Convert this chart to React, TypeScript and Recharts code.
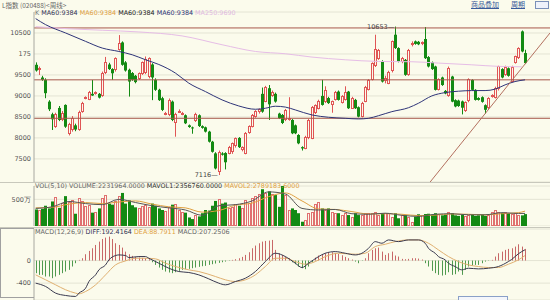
import React from 'react';
import { ComposedChart, Bar, Line, XAxis, YAxis, CartesianGrid, ReferenceLine, ReferenceDot } from 'recharts';

const BG = '#fbfbec';
const RED = '#e05555';
const GREEN = '#138a13';
const NAVY = '#2e3478';
const PINK = '#e6bde6';
const BROWN = '#a8584c';
const GRID = '#e4e4d4';
const AXIS = '#a8a8a0';
const FONT = '"DejaVu Sans", Verdana, sans-serif';

const opens = [9742,9620,9439,9384,8865,8564,8268,8714,8430,8786,8093,8189,8300,8189,8626,8940,8922,9050,9050,9050,9001,9544,9750,9640,9606,10101,10275,9800,9623,9546,9480,9400,9520,9546,9440,9750,9384,9146,8946,8560,8547,8865,8349,8620,8560,8540,8300,8250,8400,8540,8280,8253,8150,7910,7632,7192,7630,7640,7632,7646,7790,8000,7700,7632,8125,8268,8500,8600,9050,8870,9185,9000,9050,8580,8547,8428,8430,8428,8300,8070,7780,7751,7990,7990,8588,8700,9001,8850,8950,8780,8906,9104,8840,8906,9104,8707,8906,8731,8507,8865,9145,9384,9702,9880,9822,9343,9305,9582,10459,10141,9800,9860,9503,10200,10300,10290,10230,10357,9926,9800,9702,9145,9440,9120,9000,9463,8900,8890,8870,8640,8865,9380,9145,8950,8970,8780,8700,8980,8960,9145,9640,9500,9660,9343,9783,9900,10538,10022];
const highs = [9800,9700,9480,9420,8900,8600,8600,8760,8640,8800,8360,8520,8340,8650,8860,8990,9120,9380,9110,9070,9580,9930,9790,9660,9920,10450,10300,9830,9650,9570,9500,9560,9820,9940,9920,9780,9420,9170,8980,8620,8940,8890,8600,8680,8620,8560,8320,8270,8600,8560,8300,8270,8170,7930,7660,7700,7660,7660,7810,7890,8010,8020,7800,8140,8300,8570,8660,8700,9200,9240,9260,9130,9080,8600,8570,8690,8970,8450,8320,8090,7800,8050,8450,8760,8800,8910,9384,9230,8980,8890,9120,9130,9020,9230,9120,8980,8930,8750,8860,9240,9400,9800,10459,10120,9850,9480,9600,10320,10653,10160,9930,9880,10120,10300,10320,10310,10300,10643,9950,9820,9720,9420,9460,9140,9700,9480,8920,8910,8890,8870,9420,9400,9160,8970,8990,8800,8970,9040,9220,9720,9660,9720,9680,9720,9960,10160,10560,10100];
const lows = [9580,9500,9360,8946,8640,8189,8240,8400,8400,8240,8060,8150,8160,8170,8600,8920,8900,9000,9030,8940,8980,9520,9620,9384,9580,10080,9720,9580,8985,9360,9300,9380,9500,9520,9420,8900,9120,8880,8640,8540,8520,8400,8029,8600,8540,8330,8240,8100,8380,8260,8220,8130,7890,7650,7250,7116,7580,7250,7610,7620,7770,7760,7680,7610,8100,8250,8480,8580,8600,8850,8428,8980,8840,8450,8330,8400,8410,8090,8090,7850,7700,7730,7970,7970,8570,8680,8770,8830,8810,8600,8890,8890,8820,8890,8690,8690,8690,8490,8490,8850,9130,9370,9690,9860,9320,9300,9280,9560,10120,9800,9780,9480,9480,10180,10220,10210,10210,9880,9680,9620,9130,9130,9240,9040,8980,8850,8730,8740,8560,8620,8850,9130,8890,8890,8840,8580,8680,8960,8940,9130,9420,9480,9460,9330,9770,9880,10040,9760];
const closes = [9606,9660,9384,9066,8683,8444,8571,8428,8600,8268,8332,8475,8200,8626,8834,8970,9104,9010,9090,8960,9558,9797,9640,9540,9900,10261,9742,9606,9343,9384,9330,9546,9800,9880,9900,9440,9146,8900,8667,8590,8906,8428,8571,8650,8600,8349,8260,8230,8571,8283,8240,8150,7910,7670,7273,7670,7600,7420,7790,7871,7990,7780,7780,8125,8284,8547,8640,8680,8626,9224,8800,9104,8866,8470,8356,8667,8470,8110,8110,7871,7750,8029,8428,8746,8786,8890,8786,9130,8830,8870,9104,8906,9000,9104,8707,8960,8707,8507,8842,9224,9384,9783,10118,10100,9343,9420,9582,10300,10141,9822,9900,9503,10101,10250,10240,10230,10280,9900,9702,9640,9145,9400,9260,9060,9677,8865,8750,8760,8720,8850,9400,9145,8906,8906,8860,8670,8950,9020,9200,9702,9440,9700,9480,9700,9940,10141,10060,9783];

// volume in 万
const volumes = [310,300,320,380,330,460,540,340,430,560,450,480,230,520,470,380,400,250,270,330,520,580,420,400,470,560,620,420,480,390,350,330,380,400,360,420,380,330,300,280,350,400,420,300,270,250,160,130,200,180,240,300,290,380,470,500,420,440,330,360,420,380,340,480,440,520,560,600,690,620,650,600,580,360,750,580,300,330,300,240,80,110,240,270,410,455,330,300,330,270,240,240,205,240,205,175,240,205,205,240,240,250,270,205,240,250,240,175,240,145,205,205,175,80,175,220,215,225,230,210,240,220,200,210,270,240,200,190,210,180,200,210,190,200,210,190,210,260,300,270,250,255,240,230,240,215,200,223];

const macdHist = [-224,-254,-254,-283,-283,-313,-283,-254,-224,-195,-165,-106,-47,12,41,112,171,218,277,336,383,407,425,383,307,277,230,159,112,83,65,53,47,41,24,-30,-77,-124,-165,-195,-212,-224,-207,-183,-165,-153,-148,-136,-124,-112,-100,-94,-77,-65,-53,-41,-30,-18,-6,12,24,41,65,100,148,218,266,307,336,348,354,366,189,130,100,71,41,-30,-65,-106,-136,-153,-106,-30,53,89,112,130,142,148,136,118,94,65,41,18,-18,-47,-6,41,130,189,218,230,159,100,130,159,89,71,30,24,30,41,41,35,18,-47,-106,-183,-224,-254,-266,-254,-207,-254,-242,-195,-254,-165,-106,-89,-77,-77,-47,-18,-6,12,71,130,159,189,207,218,248,289,248,207];

const ma60Points: [number, number][] = [[0,10842],[3,10698],[9,10500],[15,10300],[20,10141],[25,10060],[29,9981],[33,9862],[37,9750],[42,9544],[46,9305],[51,9104],[56,8906],[61,8762],[66,8683],[69,8707],[72,8755],[75,8735],[78,8667],[83,8547],[88,8492],[93,8468],[97,8452],[100,8468],[103,8530],[107,8626],[112,8720],[115,8827],[119,9001],[123,9080],[127,9113],[131,9128],[135,9128],[138,9162],[141,9264],[144,9343],[147,9384]];
const ma250Points: [number, number][] = [[0,10650],[10,10600],[20,10565],[31,10525],[44,10430],[56,10220],[66,10060],[75,10005],[83,9926],[93,9862],[103,9822],[113,9815],[121,9783],[131,9742],[139,9705],[146,9695]];
const mavol1Points: [number, number][] = [[0,330],[5,360],[10,460],[15,420],[20,400],[25,500],[30,440],[35,380],[40,340],[45,300],[50,200],[55,380],[60,400],[65,470],[70,640],[75,600],[80,330],[85,300],[90,310],[95,230],[100,220],[105,240],[110,200],[115,180],[120,220],[125,230],[130,210],[135,210],[140,250],[145,235],[147,236]];
const mavol2Points: [number, number][] = [[0,340],[5,350],[10,410],[15,440],[20,420],[25,450],[30,470],[35,410],[40,360],[45,340],[50,260],[55,290],[60,390],[65,430],[70,550],[75,620],[80,470],[85,320],[90,310],[95,270],[100,225],[105,230],[110,220],[115,195],[120,205],[125,225],[130,220],[135,210],[140,230],[145,250],[147,279]];
const diffPoints: [number, number][] = [[0,-401],[3,-460],[6,-578],[9,-620],[12,-637],[13,-578],[15,-490],[16,-372],[18,-254],[19,-165],[21,-77],[22,12],[24,89],[25,100],[27,89],[28,53],[31,71],[33,71],[34,41],[37,-47],[40,-136],[43,-195],[46,-212],[49,-254],[52,-325],[55,-401],[57,-431],[60,-372],[63,-313],[66,-195],[69,-18],[72,130],[75,71],[78,-47],[80,-124],[82,-47],[85,71],[87,130],[90,159],[93,130],[96,100],[98,130],[100,218],[102,336],[104,307],[106,366],[109,336],[112,366],[115,366],[117,307],[118,218],[120,130],[121,71],[123,12],[124,-47],[126,-106],[128,-165],[130,-136],[133,-148],[136,-136],[139,-106],[142,-18],[143,20],[145,120],[147,192]];
const deaPoints: [number, number][] = [[0,-254],[3,-342],[6,-431],[9,-519],[12,-578],[13,-590],[15,-549],[18,-431],[21,-254],[24,-77],[27,-6],[30,41],[33,41],[36,30],[39,-47],[42,-106],[46,-165],[49,-195],[54,-283],[57,-342],[60,-372],[63,-342],[66,-254],[69,-106],[72,41],[75,41],[78,-18],[81,-65],[84,-18],[87,71],[91,130],[96,112],[99,130],[102,248],[105,289],[108,336],[112,366],[115,366],[118,307],[121,189],[124,71],[127,-18],[130,-77],[133,-106],[136,-124],[139,-124],[142,-65],[145,12],[147,89]];

const priceTicks = [7500, 8000, 8500, 9000, 9500, 10000, 10500];
const priceTickLabels = ['7500', '8000', '8500', '9000', '9500', '175', '10500'];
const hLines = [10620, 9384, 8468];
const trendFrom = { x: 118.5, y: 6950 };
const trendTo = { x: 154.5, y: 10500 };
const volTicks = [500];
const macdTicks = [-400, 0];

const data: any[] = opens.map((o, i) => ({
  i, open: o, high: highs[i], low: lows[i], close: closes[i], range: [lows[i], highs[i]],
  vol: volumes[i], macd: macdHist[i],
  ma60: null, ma250: null, mavol1: null, mavol2: null, diff: null, dea: null,
}));
const put = (pts: [number, number][], key: string) => pts.forEach(([i, v]) => { data[i][key] = v; });
put(ma60Points, 'ma60'); put(ma250Points, 'ma250'); put(mavol1Points, 'mavol1');
put(mavol2Points, 'mavol2'); put(diffPoints, 'diff'); put(deaPoints, 'dea');

const XDOM: [number, number] = [-0.5, 154.5];

const Candle = (props: any) => {
  const { x, y, width, height, payload } = props;
  if (!payload) return null;
  const top = Math.min(y, y + height);
  const h = Math.abs(height);
  const { open, close, high, low } = payload;
  const ppu = h / ((high - low) || 1);
  const cx = Math.round(x + width / 2) + 0.5;
  const up = close >= open;
  const yHi = top + (high - Math.max(open, close)) * ppu;
  const yLo = top + (high - Math.min(open, close)) * ppu;
  const c = up ? RED : GREEN;
  const bh = Math.max(yLo - yHi, 1);
  return (
    <g>
      <line x1={cx} x2={cx} y1={top} y2={top + h} stroke={c} strokeWidth={1} />
      {up
        ? <rect x={cx - 1} y={Math.round(yHi) + 0.5} width={2} height={Math.max(Math.round(bh) - 1, 1)} fill={BG} stroke={c} strokeWidth={1} />
        : <rect x={cx - 1.5} y={yHi} width={3} height={bh} fill={c} />}
    </g>
  );
};

const VolBar = (props: any) => {
  const { x, y, width, height, payload } = props;
  if (!payload) return null;
  const top = Math.min(y, y + height);
  const h = Math.abs(height);
  const cx = Math.round(x + width / 2) + 0.5;
  const up = payload.close >= payload.open;
  return up
    ? <rect x={cx - 1} y={Math.round(top) + 0.5} width={2} height={Math.max(Math.round(h) - 1, 1)} fill={BG} stroke={'#e07070'} strokeWidth={1} />
    : <rect x={cx - 1.5} y={top} width={3} height={h} fill={GREEN} />;
};

const MacdBar = (props: any) => {
  const { x, y, width, height, payload } = props;
  if (!payload) return null;
  const top = Math.min(y, y + height);
  const h = Math.abs(height);
  const cx = Math.round(x + width / 2) + 0.5;
  const c = payload.macd >= 0 ? '#c86868' : '#4f9a4f';
  return <line x1={cx} x2={cx} y1={top} y2={top + h} stroke={c} strokeWidth={1} />;
};

const tickStyle = { fontSize: 6.5, fill: '#555', fontFamily: FONT };

const hdr: React.CSSProperties = { position: 'absolute', whiteSpace: 'nowrap', fontFamily: FONT, fontSize: 6.4, lineHeight: '8px' };

export default function App() {
  return (
    <div style={{ position: 'absolute', left: 0, top: 0, width: 550, height: 300, background: BG, overflow: 'hidden' }}>
      {/* main pane */}
      <div style={{ position: 'absolute', left: 0, top: 0 }}>
        <ComposedChart width={550} height={183} data={data} margin={{ top: 12, right: 0, bottom: 1, left: 0 }}>
          <CartesianGrid horizontal vertical={false} stroke={GRID} />
          <XAxis dataKey="i" type="number" domain={XDOM} hide allowDataOverflow />
          <YAxis type="number" domain={[6950, 11000]} ticks={priceTicks} width={34} interval={0}
            tickFormatter={(v: number) => priceTickLabels[priceTicks.indexOf(v)] ?? String(v)}
            tick={tickStyle} tickLine={false} tickSize={2} tickMargin={1} axisLine={{ stroke: AXIS }} allowDataOverflow />
          {hLines.map((v) => <ReferenceLine key={v} y={v} stroke={BROWN} strokeWidth={1} />)}
          <Line dataKey="ma250" type="monotone" stroke={PINK} strokeWidth={1} dot={false} activeDot={false} connectNulls isAnimationActive={false} />
          <Line dataKey="ma60" type="monotone" stroke={NAVY} strokeWidth={1} dot={false} activeDot={false} connectNulls isAnimationActive={false} />
          <Bar dataKey="range" barSize={3} shape={<Candle />} isAnimationActive={false} />
          <ReferenceLine segment={[trendFrom, trendTo]} stroke="#b3705f" strokeWidth={1} ifOverflow="visible" />
          <ReferenceDot x={108} y={10653} r={0} fill="none" stroke="none"
            label={{ value: '10653—', position: 'left', offset: 1, fontSize: 6.5, fill: '#444', fontFamily: FONT }} />
          <ReferenceDot x={55} y={7116} r={0} fill="none" stroke="none"
            label={{ value: '7116—', position: 'left', offset: 1, fontSize: 6.5, fill: '#444', fontFamily: FONT }} />
        </ComposedChart>
      </div>

      {/* volume pane */}
      <div style={{ position: 'absolute', left: 0, top: 182 }}>
        <ComposedChart width={550} height={44} data={data} margin={{ top: 4, right: 0, bottom: 0, left: 0 }}>
          <CartesianGrid horizontal vertical={false} stroke={GRID} />
          <XAxis dataKey="i" type="number" domain={XDOM} hide allowDataOverflow />
          <YAxis type="number" domain={[0, 750]} ticks={volTicks} width={34} interval={0}
            tickFormatter={(v: number) => `${v}万`} tick={tickStyle} tickLine={false} tickSize={2} tickMargin={1}
            axisLine={{ stroke: AXIS }} allowDataOverflow />
          <Bar dataKey="vol" barSize={3} shape={<VolBar />} isAnimationActive={false} />
          <Line dataKey="mavol2" type="monotone" stroke="#e0a040" strokeWidth={1} dot={false} activeDot={false} connectNulls isAnimationActive={false} />
          <Line dataKey="mavol1" type="monotone" stroke="#555" strokeWidth={1} dot={false} activeDot={false} connectNulls isAnimationActive={false} />
        </ComposedChart>
      </div>

      {/* macd pane */}
      <div style={{ position: 'absolute', left: 0, top: 226 }}>
        <ComposedChart width={550} height={74} data={data} margin={{ top: 3, right: 0, bottom: 0, left: 0 }}>
          <CartesianGrid horizontal vertical={false} stroke={GRID} />
          <XAxis dataKey="i" type="number" domain={XDOM} hide allowDataOverflow />
          <YAxis type="number" domain={[-700, 560]} ticks={macdTicks} width={34} interval={0}
            tick={tickStyle} tickLine={false} tickSize={2} tickMargin={1} axisLine={{ stroke: AXIS }} allowDataOverflow />
          <Bar dataKey="macd" barSize={1} shape={<MacdBar />} isAnimationActive={false} />
          <Line dataKey="dea" type="monotone" stroke="#e0b070" strokeWidth={1} dot={false} activeDot={false} connectNulls isAnimationActive={false} />
          <Line dataKey="diff" type="monotone" stroke="#3a3a50" strokeWidth={1} dot={false} activeDot={false} connectNulls isAnimationActive={false} />
        </ComposedChart>
      </div>

      {/* separators and frames */}
      <div style={{ position: 'absolute', left: 0, top: 182, width: 550, height: 1, background: '#c8c8bc' }} />
      <div style={{ position: 'absolute', left: 0, top: 227, width: 550, height: 1, background: '#c8c8bc' }} />
      <div style={{ position: 'absolute', left: 0, top: 228, width: 33, height: 68, border: '1px solid #a0a0a0', borderRight: 'none' }} />
      <div style={{ position: 'absolute', left: 458, top: 296, width: 48, height: 8, border: '1px solid #8aa0c8', background: '#f4f6fb' }} />

      {/* title and top links */}
      <div style={{ ...hdr, left: 2, top: 1, color: '#666', fontFamily: '"Noto Sans CJK SC", ' + FONT, fontSize: 6.5 }}>L指数 (020488)&lt;周线&gt;</div>
      <div style={{ ...hdr, left: 471, top: 0, color: '#3a5a9a', textDecoration: 'underline', fontFamily: '"Noto Sans CJK SC", sans-serif', fontSize: 7 }}>商品叠加</div>
      <div style={{ ...hdr, left: 511, top: 0, color: '#3a5a9a', textDecoration: 'underline', fontFamily: '"Noto Sans CJK SC", sans-serif', fontSize: 7 }}>周期</div>
      <div style={{ position: 'absolute', left: 535, top: 1, width: 12, height: 6, border: '1px solid #7a90b8', background: '#eef2fa' }} />

      {/* pane headers */}
      <div style={{ ...hdr, left: 35, top: 9 }}>
        <span style={{ color: '#777' }}>K </span>
        <span style={{ color: '#333355' }}> MA60:9384 </span>
        <span style={{ color: '#e0a040' }}>MA60:9384 </span>
        <span style={{ color: '#222' }}>MA60:9384 </span>
        <span style={{ color: NAVY }}>MA60:9384 </span>
        <span style={{ color: '#e0b8e0' }}>MA250:9690</span>
      </div>
      <div style={{ ...hdr, left: 35, top: 182 }}>
        <span style={{ color: '#666' }}>VOL(5,10) VOLUME:2231964.0000 </span>
        <span style={{ color: '#333' }}>MAVOL1:2356760.0000 </span>
        <span style={{ color: '#e0a040' }}>MAVOL2:2789183.6000</span>
      </div>
      <div style={{ ...hdr, left: 35, top: 228 }}>
        <span style={{ color: '#666' }}>MACD(12,26,9) </span>
        <span style={{ color: '#333355' }}>DIFF:192.4164 </span>
        <span style={{ color: '#e0a040' }}>DEA:88.7911 </span>
        <span style={{ color: '#666' }}>MACD:207.2506</span>
      </div>
    </div>
  );
}
